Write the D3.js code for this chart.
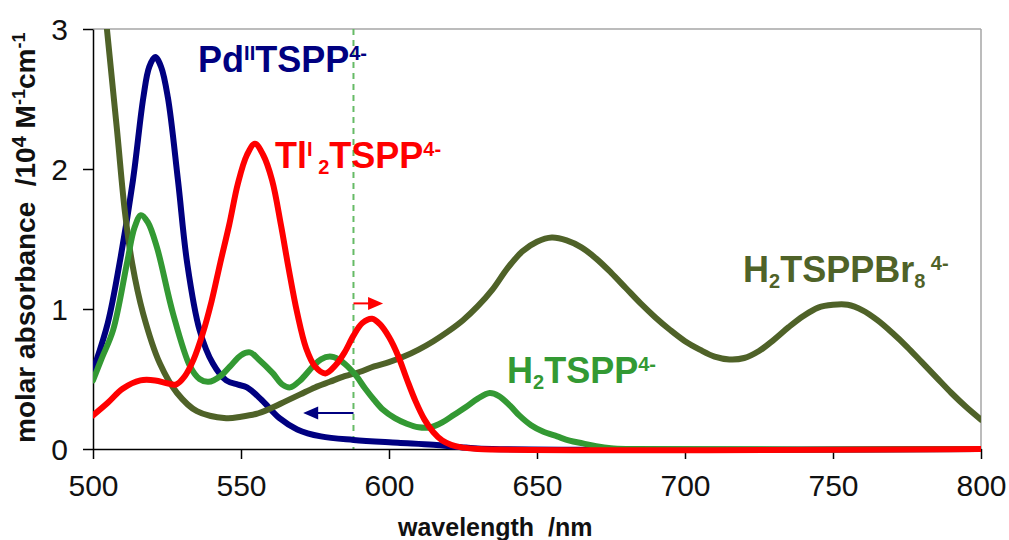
<!DOCTYPE html>
<html>
<head>
<meta charset="utf-8">
<script src="https://cdn.jsdelivr.net/npm/d3@7"></script>
<style>
  body { margin: 0; background: #fff; }
  svg { display: block; font-family: "Liberation Sans", Arial, sans-serif; }
</style>
</head>
<body>
<div id="chart-area"></div>
<script>
// spectra (wavelength nm, absorbance /10^4 M-1cm-1)
var pdWl  = [500, 505, 509, 513.5, 517, 519, 521, 523, 525.3, 528.7, 531.8, 536, 540.5, 545, 549, 552, 557, 563, 569, 577, 588, 603, 615, 626, 635, 800];
var pdAbs = [0.56, 0.9, 1.33, 1.92, 2.51, 2.73, 2.8, 2.73, 2.51, 1.92, 1.33, 0.85, 0.61, 0.49, 0.46, 0.44, 0.35, 0.22, 0.14, 0.09, 0.065, 0.045, 0.03, 0.01, 0, 0];

var tlWl  = [500, 505, 510, 516, 521, 525, 528, 531, 534, 537, 540, 543, 546, 549, 552, 554.7, 557.5, 560.5, 563.5, 566, 569, 572, 575, 578.5, 582, 585, 588, 591, 594.3, 597, 600, 603, 606, 609, 612, 615, 618, 621, 625, 630, 800];
var tlAbs = [0.24, 0.33, 0.43, 0.49, 0.49, 0.47, 0.46, 0.52, 0.64, 0.82, 1.05, 1.33, 1.6, 1.9, 2.1, 2.18, 2.1, 1.92, 1.6, 1.3, 0.97, 0.72, 0.59, 0.54, 0.6, 0.69, 0.81, 0.9, 0.93, 0.89, 0.8, 0.67, 0.5, 0.34, 0.21, 0.12, 0.06, 0.03, 0.01, 0, 0];

var h2Wl  = [500, 503, 506.8, 511.5, 514, 516.2, 518.5, 521.6, 527, 532.8, 536, 539, 543, 546.3, 550, 553, 556, 560.8, 564, 566.6, 570, 574.3, 577, 580, 583, 586, 589, 592, 595, 598, 602, 606, 610, 614, 618, 622, 626, 630, 634, 637, 640.9, 644, 648, 652, 656.8, 661, 665.5, 670, 675, 680, 800];
var h2Abs = [0.49, 0.65, 0.85, 1.33, 1.58, 1.67, 1.62, 1.44, 0.97, 0.59, 0.5, 0.48, 0.52, 0.59, 0.67, 0.69, 0.64, 0.54, 0.46, 0.44, 0.49, 0.59, 0.64, 0.66, 0.64, 0.59, 0.52, 0.43, 0.35, 0.28, 0.22, 0.18, 0.155, 0.155, 0.19, 0.245, 0.3, 0.36, 0.4, 0.38, 0.31, 0.24, 0.17, 0.125, 0.09, 0.06, 0.04, 0.02, 0.005, 0, 0];

var brWl  = [500, 504.7, 508.1, 510.8, 513.2, 516.9, 522.6, 528.4, 535.1, 545, 550, 555, 560, 565, 570, 575, 580, 585, 590, 595, 600, 605, 610, 615, 620, 625, 630, 635, 640, 645, 650, 655, 660, 665, 670, 675, 680, 685, 690, 695, 700, 705, 710, 715, 720, 725, 730, 735, 740, 745, 750, 755, 760, 765, 770, 775, 780, 785, 790, 795, 800];
var brAbs = [3.95, 3.0, 2.28, 1.69, 1.33, 0.97, 0.61, 0.4, 0.27, 0.22, 0.23, 0.25, 0.29, 0.34, 0.39, 0.44, 0.48, 0.52, 0.55, 0.59, 0.62, 0.66, 0.71, 0.77, 0.84, 0.92, 1.02, 1.14, 1.29, 1.41, 1.48, 1.51, 1.49, 1.44, 1.36, 1.26, 1.15, 1.04, 0.94, 0.85, 0.77, 0.71, 0.66, 0.64, 0.65, 0.7, 0.78, 0.87, 0.95, 1.01, 1.03, 1.03, 0.99, 0.92, 0.83, 0.73, 0.62, 0.51, 0.4, 0.3, 0.21];

var xTicks = [500, 550, 600, 650, 700, 750, 800];
var yTicks = [0, 1, 2, 3];

// excitation wavelength marker and shift arrows
var markWl = 588;
var redArrow  = [588, 598, 1.04];   // from, to, level
var blueArrow = [588, 571, 0.257];

var colors = {
  pd: "#000080",
  tl: "#ff0000",
  h2: "#339933",
  br: "#4f6228",
  mark: "#66bb66"
};

var margin = { left: 93, right: 28, top: 29, bottom: 91 };
var width = 1009, height = 540;
var innerW = width - margin.left - margin.right,
    innerH = height - margin.top - margin.bottom;

var svg = d3.select("#chart-area")
    .append("svg")
    .attr("width", width)
    .attr("height", height);

var g = svg.append("g")
    .attr("transform", "translate(" + margin.left + "," + margin.top + ")");

// Scales
var x = d3.scaleLinear().domain([500, 800]).range([0, innerW]);
var y = d3.scaleLinear().domain([0, 3]).range([innerH, 0]);

g.append("clipPath").attr("id", "plot-clip")
  .append("rect")
    .attr("x", 0).attr("y", 0)
    .attr("width", innerW).attr("height", innerH + 10);

// frame: grey top and right
g.append("line").attr("x1", 0).attr("x2", innerW).attr("y1", 0).attr("y2", 0)
    .attr("stroke", "#a6a6a6").attr("stroke-width", 1.5);
g.append("line").attr("x1", innerW).attr("x2", innerW).attr("y1", 0).attr("y2", innerH)
    .attr("stroke", "#a6a6a6").attr("stroke-width", 1.5);

// dashed marker
g.append("line")
    .attr("x1", x(markWl)).attr("x2", x(markWl))
    .attr("y1", 0).attr("y2", innerH)
    .attr("stroke", colors.mark)
    .attr("stroke-width", 2)
    .attr("stroke-dasharray", "6,5");

// Axes
var xAxisCall = d3.axisBottom(x).tickValues(xTicks).tickSize(10).tickSizeOuter(0).tickFormat(d3.format("d"));
var xAxis = g.append("g")
    .attr("class", "x axis")
    .attr("transform", "translate(0," + innerH + ")")
    .call(xAxisCall);

var yAxisCall = d3.axisLeft(y).tickValues(yTicks).tickSize(10).tickSizeOuter(0).tickFormat(d3.format("d"));
var yAxis = g.append("g")
    .attr("class", "y axis")
    .call(yAxisCall);

g.selectAll(".axis path, .axis line").attr("stroke", "#000").attr("stroke-width", 1.5);
g.selectAll(".axis text")
    .attr("font-size", "30px")
    .attr("font-family", "Liberation Sans, Arial, sans-serif")
    .attr("fill", "#111");
xAxis.selectAll("text").attr("y", 47).attr("dy", 0);
yAxis.selectAll("text").attr("x", -25).attr("dy", "0.35em");

// Curves
var line = d3.line()
    .x(function(d){ return x(d[0]); })
    .y(function(d){ return y(d[1]); })
    .curve(d3.curveCatmullRom.alpha(0.5));

var series = [
  { key: "pd", wl: pdWl, abs: pdAbs },
  { key: "br", wl: brWl, abs: brAbs },
  { key: "h2", wl: h2Wl, abs: h2Abs },
  { key: "tl", wl: tlWl, abs: tlAbs }
];

var curves = g.append("g").attr("clip-path", "url(#plot-clip)");
series.forEach(function(s){
  curves.append("path")
    .datum(d3.zip(s.wl, s.abs))
    .attr("fill", "none")
    .attr("stroke", colors[s.key])
    .attr("stroke-width", 6)
    .attr("stroke-linejoin", "round")
    .attr("stroke-linecap", "round")
    .attr("d", line);
});

// arrows
function arrow(a, color) {
  var x0 = x(a[0]), x1 = x(a[1]), yy = y(a[2]);
  var dir = x1 > x0 ? 1 : -1;
  g.append("line")
    .attr("x1", x0).attr("x2", x1 - dir * 10)
    .attr("y1", yy).attr("y2", yy)
    .attr("stroke", color).attr("stroke-width", 2);
  g.append("path")
    .attr("d", "M" + x1 + "," + yy + "L" + (x1 - dir * 15) + "," + (yy - 6.5) +
               "L" + (x1 - dir * 15) + "," + (yy + 6.5) + "Z")
    .attr("fill", color);
}
arrow(redArrow, colors.tl);
arrow(blueArrow, colors.pd);

// species labels
function richLabel(wl, val, parts, color) {
  var t = g.append("text")
    .attr("x", x(wl)).attr("y", y(val))
    .attr("fill", color)
    .attr("font-weight", "bold")
    .attr("font-size", "36px");
  var shift = 0;
  parts.forEach(function(p){
    var want = p[1] === "sup" ? -12 : (p[1] === "sub" ? 6 : 0);
    t.append("tspan")
      .attr("dy", want - shift)
      .attr("font-size", p[1] ? "20px" : "36px")
      .text(p[0]);
    shift = want;
  });
}

richLabel(535.5, 2.69, [["Pd", ""], ["II", "sup"], ["TSPP", ""], ["4-", "sup"]], colors.pd);
richLabel(561.5, 2.01, [["Tl", ""], ["I", "sup"], ["\u00a02", "sub"], ["TSPP", ""], ["4-", "sup"]], colors.tl);
richLabel(639.9, 0.47, [["H", ""], ["2", "sub"], ["TSPP", ""], ["4-", "sup"]], colors.h2);
richLabel(719.6, 1.19, [["H", ""], ["2", "sub"], ["TSPPBr", ""], ["8", "sub"], ["\u00a04-", "sup"]], colors.br);

// axis titles
var yLabel = svg.append("text")
    .attr("transform", "translate(35,443) rotate(-90)")
    .attr("font-size", "28px")
    .attr("font-weight", "bold")
    .attr("fill", "#111");
yLabel.append("tspan").text("molar absorbance\u00a0\u00a0/10");
yLabel.append("tspan").attr("dy", -9).attr("font-size", "20px").text("4");
yLabel.append("tspan").attr("dy", 9).text(" M");
yLabel.append("tspan").attr("dy", -10).attr("font-size", "18px").text("-1");
yLabel.append("tspan").attr("dy", 10).text("cm");
yLabel.append("tspan").attr("dy", -10).attr("font-size", "18px").text("-1");

svg.append("text")
    .attr("x", 398)
    .attr("y", 536)
    .attr("font-size", "25px")
    .attr("font-weight", "bold")
    .attr("fill", "#111")
    .text("wavelength\u00a0\u00a0/nm");
</script>
</body>
</html>
